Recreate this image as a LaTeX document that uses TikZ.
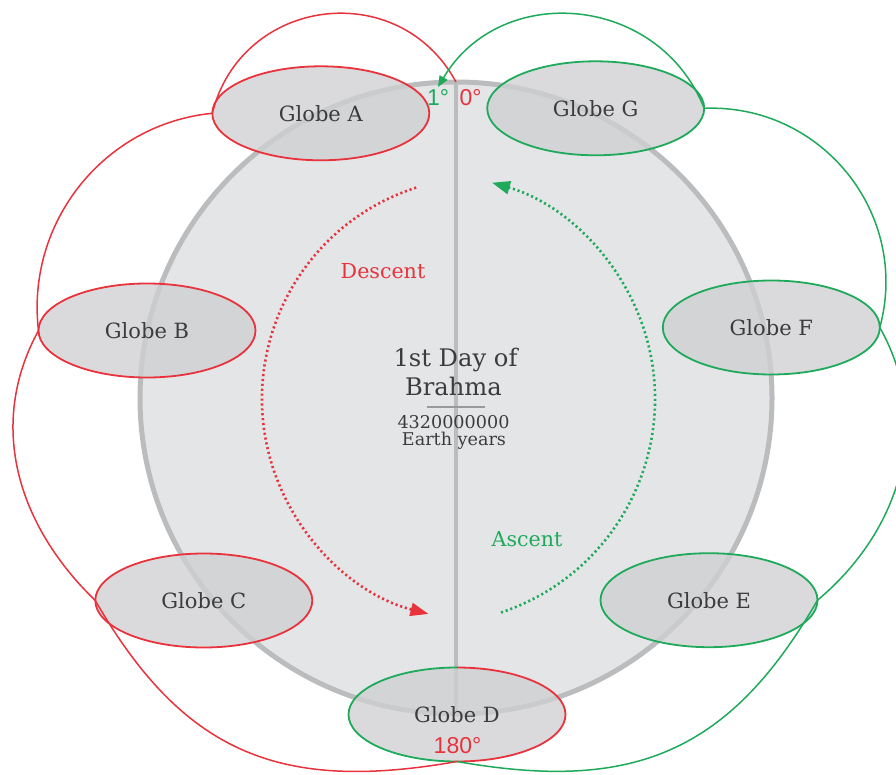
\documentclass[tikz,border=0pt]{standalone}
\usepackage{fontspec}
\setmainfont{DejaVu Serif}
\newfontfamily\degfont{Liberation Sans}
\usetikzlibrary{shapes.geometric,arrows.meta}
\definecolor{descentred}{HTML}{E8333D}
\definecolor{ascentgreen}{HTML}{1EAA5A}
\definecolor{discfill}{HTML}{E4E5E7}
\definecolor{discline}{HTML}{BBBCBE}
\definecolor{globefill}{HTML}{CFD0D2}
\definecolor{labelgray}{HTML}{3C3C3C}

\begin{document}
\begin{tikzpicture}[x=1pt,y=1pt,
    globe/.style={ellipse,minimum width=217pt,minimum height=94pt,inner sep=0pt,outer sep=0pt,
      fill=globefill,fill opacity=0.78,text opacity=1,line width=1.8pt,text=labelgray,
      font=\fontsize{21}{25}\selectfont},
    descent/.style={draw=descentred,text=descentred},
    ascent/.style={draw=ascentgreen,text=ascentgreen},
    link/.style={line width=1.5pt},
    dotline/.style={line width=2.6pt,dash pattern=on 2.1pt off 2.8pt},
    bigtip/.style={-{Triangle[length=18pt,width=13pt]}},
    centertext/.style={text=labelgray,font=\fontsize{24.2}{28}\selectfont},
    smalltext/.style={text=labelgray,font=\fontsize{17.6}{21}\selectfont},
    phase/.style={font=\fontsize{20.6}{24}\selectfont},
    degree/.style={font=\degfont\fontsize{23}{27}\selectfont}]
  \useasboundingbox (0,0) rectangle (896,-775);
  \draw[draw=discline,fill=discfill,line width=5pt] (456,-398) circle[radius=316];
  \coordinate (zero) at (456,-82);
  \coordinate (nadir) at (456,-714);
  \coordinate (one) at (438,-87);
  \draw[draw=discline,line width=4pt] (zero) -- (nadir);

  \node[centertext,anchor=base] (dayline) at (455.5,-366.7) {1st Day of};
  \node[centertext,anchor=base] (brahma) at (453.4,-395.7) {Brahma};
  \draw[draw=gray!80,line width=2pt] (427,-407.3) -- (485,-407.3);
  \node[smalltext,anchor=base] (years) at (453.5,-428) {4320000000};
  \node[smalltext,anchor=base] (earth) at (454,-445.5) {Earth years};

  \draw[descentred,dotline,bigtip] (484,-399) ++(107.8:222) arc[start angle=107.8,end angle=255.5,radius=222];
  \draw[ascentgreen,dotline,bigtip] (430,-399) ++(-71.6:225) arc[start angle=-71.6,end angle=74,radius=225];
  \node[phase,text=descentred,anchor=base] (descentlabel) at (383,-279) {Descent};
  \node[phase,text=ascentgreen,anchor=base] (ascentlabel) at (527,-546) {Ascent};

  \node[globe,descent,text=labelgray] (A) at (320.8,-113.3) {Globe A};
  \node[globe,descent,text=labelgray] (B) at (147,-330.5) {Globe B};
  \node[globe,descent,text=labelgray] (C) at (203.8,-600.5) {Globe C};
  \node[globe] (D) at (457,-714.5) {Globe D};
  \node[globe,ascent,text=labelgray] (E) at (709,-600.2) {Globe E};
  \node[globe,ascent,text=labelgray] (F) at (771.3,-327.5) {Globe F};
  \node[globe,ascent,text=labelgray] (G) at (595.7,-108.3) {Globe G};
  \draw[ascentgreen,line width=1.8pt] (D.north) arc[start angle=90,end angle=270,x radius=108.5,y radius=47];
  \draw[descentred,line width=1.8pt] (D.north) arc[start angle=90,end angle=-90,x radius=108.5,y radius=47];

  \node[degree,text=ascentgreen,anchor=base] (onelabel) at (438,-106) {1°};
  \node[degree,text=descentred,anchor=base] (zerolabel) at (470.5,-106) {0°};
  \node[degree,text=descentred,anchor=base] (halflabel) at (457.5,-753) {180°};

  \draw[descent,link] (zero) to[out=118.5,in=76,looseness=1.25] (A.west);
  \draw[descent,link] (A.west) to[out=185.6,in=96.8] (B.west);
  \draw[descent,link] (B.west) to[out=241.3,in=136] (C.west);
  \draw[descent,link] (C.west) to[out=-60,in=190,looseness=1.15] (D.south);
  \draw[ascent,link] (D.south) to[out=-10,in=240,looseness=1.15] (E.east);
  \draw[ascent,link] (E.east) to[out=40,in=-60.7] (F.east);
  \draw[ascent,link] (F.east) to[out=74.8,in=2.3,looseness=1.07] (G.east);
  \draw[ascent,link,-{Triangle[length=11pt,width=9pt]}] (G.east) to[out=111.7,in=59.3,looseness=1.18] (one);
\end{tikzpicture}
\end{document}
